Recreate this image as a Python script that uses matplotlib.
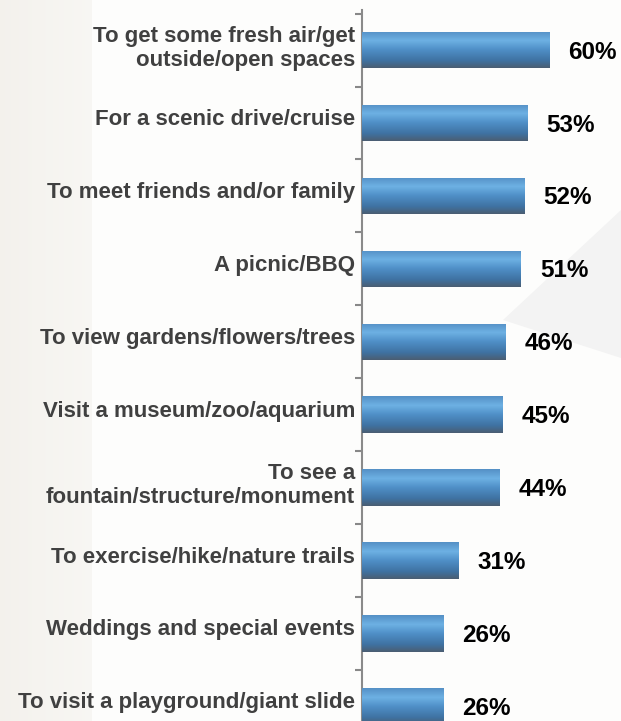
import numpy as np
import matplotlib
matplotlib.use("Agg")
import matplotlib.pyplot as plt
from matplotlib.colors import LinearSegmentedColormap
from matplotlib.patches import Polygon
from matplotlib.transforms import ScaledTranslation

# Dados do gráfico
categorias = [
    "To get some fresh air/get\noutside/open spaces",
    "For a scenic drive/cruise",
    "To meet friends and/or family",
    "A picnic/BBQ",
    "To view gardens/flowers/trees",
    "Visit a museum/zoo/aquarium",
    "To see a\nfountain/structure/monument",
    "To exercise/hike/nature trails",
    "Weddings and special events",
    "To visit a playground/giant slide",
]
valores = [60, 53, 52, 51, 46, 45, 44, 31, 26, 26]
rotulos = [f"{v}%" for v in valores]

plt.rcParams['font.family'] = ['Liberation Sans', 'DejaVu Sans']

fig = plt.figure(figsize=(6.21, 7.21), dpi=100)

# Fundo: faixa bege clara à esquerda, quase branco à direita
bg = fig.add_axes([0, 0, 1, 1], zorder=0)
grad = np.ones((10, 621, 3))
bege = np.array([0.955, 0.947, 0.928])
claro = np.array([0.972, 0.967, 0.955])
branco = np.array([0.993, 0.993, 0.99])
for j in range(621):
    if j < 92:
        t = j / 92
        grad[:, j] = bege * (1 - t) + claro * t
    else:
        grad[:, j] = branco
bg.imshow(grad, extent=[0, 621, 0, 721], aspect='auto')
# cunha cinza clara à direita (coordenadas de imagem, y invertido)
bg.add_patch(Polygon([[621, 721 - 210], [503, 721 - 320], [621, 721 - 358]],
                     closed=True, facecolor='#f3f3f3', edgecolor='none'))
bg.set_xlim(0, 621)
bg.set_ylim(0, 721)
bg.axis('off')

ax = fig.add_axes([362 / 621, 0, 1 - 362 / 621, 1 - 10 / 721], zorder=1)
ax.patch.set_alpha(0)

y = np.arange(len(categorias))
barras = ax.barh(y, valores, height=0.5, color='#4f8fc8', zorder=2)

# Gradiente vertical nas barras
cmap = LinearSegmentedColormap.from_list('barra', [
    (0.0, '#5590c6'),
    (0.25, '#6db1e3'),
    (0.5, '#4f8fc7'),
    (0.8, '#3f72a2'),
    (1.0, '#4b5e72'),
])
g = np.linspace(0, 1, 100).reshape(-1, 1)
for b in barras:
    x0, y0 = b.get_x(), b.get_y()
    w, h = b.get_width(), b.get_height()
    im = ax.imshow(g, cmap=cmap, extent=[x0, x0 + w, y0 + h, y0],
                   aspect='auto', zorder=3)
    im.set_clip_path(b)

for b, r in zip(barras, rotulos):
    ax.annotate(r, (b.get_width(), b.get_y() + b.get_height() / 2),
                xytext=(19, -2), textcoords='offset pixels',
                ha='left', va='center', fontsize=17.5, fontweight='bold',
                color='black', zorder=4)

ax.set_yticks(y)
ax.set_yticklabels(categorias, fontsize=16, fontweight='bold',
                   color='#404040', ha='right')
ax.tick_params(axis='y', which='major', length=0, pad=5)
# rótulos das categorias um pouco acima do centro das barras
desloc = ScaledTranslation(0, 6 / 100, fig.dpi_scale_trans)
for lbl in ax.get_yticklabels():
    lbl.set_transform(lbl.get_transform() + desloc)
ax.set_yticks(np.arange(-0.5, len(categorias), 1), minor=True)
ax.tick_params(axis='y', which='minor', length=5, width=1.5, color='#888888')
ax.set_xticks([])
ax.set_xlim(0, 83.1)
ax.set_ylim(9.2, -0.55)
for lado in ['top', 'right', 'bottom']:
    ax.spines[lado].set_visible(False)
ax.spines['left'].set_color('#8a8a8a')
ax.spines['left'].set_linewidth(1.5)

fig.savefig('out.png', dpi=100)
